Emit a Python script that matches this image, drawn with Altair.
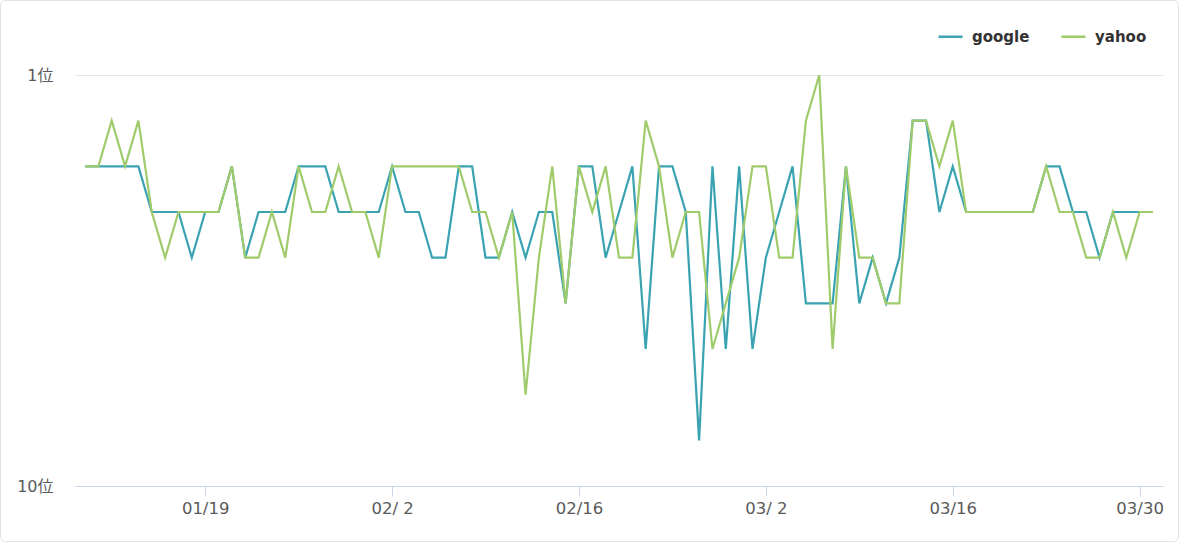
import altair as alt
import pandas as pd

# Daily ranks from 2023-01-10 to 2023-03-31 (81 days)
dates = [d.strftime("%Y-%m-%d") for d in pd.date_range("2023-01-10", "2023-03-31", freq="D")]

google = [3, 3, 3, 3, 3, 4, 4, 4, 5, 4,
          4, 3, 5, 4, 4, 4, 3, 3, 3, 4,
          4, 4, 4, 3, 4, 4, 5, 5, 3, 3,
          5, 5, 4, 5, 4, 4, 6, 3, 3, 5,
          4, 3, 7, 3, 3, 4, 9, 3, 7, 3,
          7, 5, 4, 3, 6, 6, 6, 3, 6, 5,
          6, 5, 2, 2, 4, 3, 4, 4, 4, 4,
          4, 4, 3, 3, 4, 4, 5, 4, 4, 4,
          4]

yahoo = [3, 3, 2, 3, 2, 4, 5, 4, 4, 4,
         4, 3, 5, 5, 4, 5, 3, 4, 4, 3,
         4, 4, 5, 3, 3, 3, 3, 3, 3, 4,
         4, 5, 4, 8, 5, 3, 6, 3, 4, 3,
         5, 5, 2, 3, 5, 4, 4, 7, 6, 5,
         3, 3, 5, 5, 2, 1, 7, 3, 5, 5,
         6, 6, 2, 2, 3, 2, 4, 4, 4, 4,
         4, 4, 3, 4, 4, 5, 5, 4, 5, 4,
         4]

series_names = ["google", "yahoo"]
series_colors = ["#3aa3b1", "#9fcb6b"]
x_tick_dates = [(1, 19), (2, 2), (2, 16), (3, 2), (3, 16), (3, 30)]
y_ticks = [1, 10]

rows = []
for name, vals in zip(series_names, [google, yahoo]):
    for d, v in zip(dates, vals):
        rows.append({"date": d, "rank": v, "engine": name})
df = pd.DataFrame(rows)

W, H = 1088, 411
FONT = "DejaVu Sans, Noto Sans CJK JP"

lines = alt.Chart(df).mark_line(strokeWidth=2.2, interpolate="linear").encode(
    x=alt.X(
        "date:T",
        scale=alt.Scale(
            type="utc",
            domain=[
                alt.DateTime(year=2023, month=1, date=9, hours=6, utc=True),
                alt.DateTime(year=2023, month=3, date=31, hours=18, utc=True),
            ],
        ),
        axis=alt.Axis(
            title=None,
            values=[alt.DateTime(year=2023, month=m, date=d, utc=True) for m, d in x_tick_dates],
            labelExpr="utcFormat(datum.value, '%m/%e')",
            grid=False,
            domainColor="#ccd6eb",
            tickColor="#ccd6eb",
            tickSize=10,
            labelPadding=4,
            labelFontSize=16.5,
            labelColor="#5a5a5a",
            labelFont=FONT,
        ),
    ),
    y=alt.Y(
        "rank:Q",
        scale=alt.Scale(domain=[1, 10], reverse=True, nice=False, zero=False),
        axis=alt.Axis(
            title=None,
            values=y_ticks,
            labelExpr="datum.value + '位'",
            domain=False,
            ticks=False,
            grid=True,
            gridColor="#e6e6e6",
            labelPadding=22,
            labelFontSize=16,
            labelColor="#5a5a5a",
            labelFont=FONT,
        ),
    ),
    color=alt.Color(
        "engine:N",
        scale=alt.Scale(domain=series_names, range=series_colors),
        legend=alt.Legend(
            title=None,
            orient="none",
            legendX=862,
            legendY=-52,
            direction="horizontal",
            symbolType="stroke",
            symbolSize=576,
            symbolStrokeWidth=2.5,
            labelFontSize=15,
            labelFontWeight="bold",
            labelColor="#333333",
            labelFont="DejaVu Sans",
            labelOffset=8,
            columnPadding=26,
        ),
    ),
)

frame = alt.Chart(pd.DataFrame({"a": [0]})).mark_rect(
    fill="transparent", stroke="#dbe2ea", strokeWidth=1, cornerRadius=5
).encode(
    x=alt.value(-74.5),
    x2=alt.value(W + 15.5),
    y=alt.value(-74.5),
    y2=alt.value(H + 55.5),
)

chart = alt.layer(frame, lines).properties(
    width=W,
    height=H,
    autosize=alt.AutoSizeParams(type="none"),
    padding={"left": 75, "top": 75, "right": 16, "bottom": 56},
    background="white",
).configure_view(stroke=None)

chart.save("out.html", embed_options={"renderer": "svg", "actions": False})
